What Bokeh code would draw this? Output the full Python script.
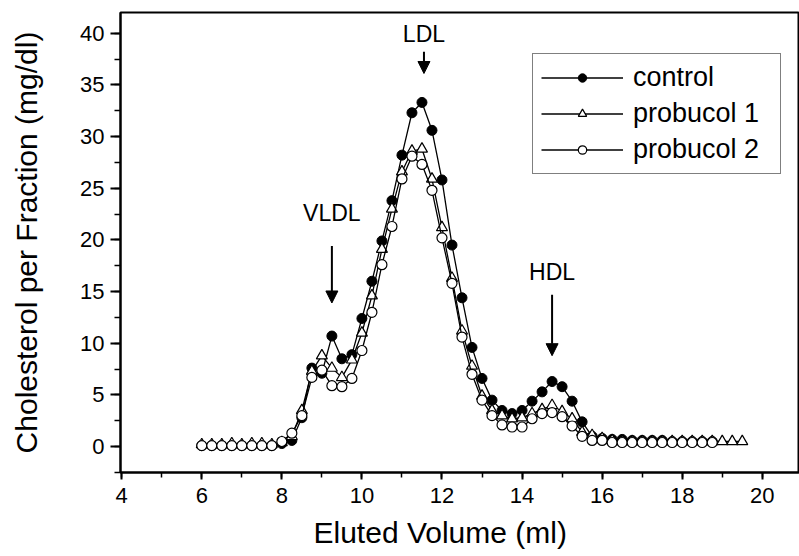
from bokeh.plotting import figure
from bokeh.models import (Range1d, SingleIntervalTicker, Legend, LegendItem,
                          Label, Arrow, NormalHead, Title)
from bokeh.embed import file_html
from bokeh.resources import INLINE

# ---------------- data ----------------
volume = [6.0, 6.25, 6.5, 6.75, 7.0, 7.25, 7.5, 7.75,
          8.0, 8.25, 8.5, 8.75, 9.0, 9.25, 9.5, 9.75,
          10.0, 10.25, 10.5, 10.75, 11.0, 11.25, 11.5, 11.75,
          12.0, 12.25, 12.5, 12.75, 13.0, 13.25, 13.5, 13.75,
          14.0, 14.25, 14.5, 14.75, 15.0, 15.25, 15.5, 15.75,
          16.0, 16.25, 16.5, 16.75, 17.0, 17.25, 17.5, 17.75,
          18.0, 18.25, 18.5, 18.75, 19.0, 19.25, 19.5]

control = [0.1, 0.1, 0.1, 0.1, 0.1, 0.1, 0.1, 0.1,
           0.3, 0.6, 2.8, 7.6, 7.1, 10.7, 8.5, 8.9,
           12.4, 16.0, 19.9, 23.8, 28.2, 32.3, 33.3, 30.6,
           25.8, 19.5, 14.4, 9.6, 6.6, 4.5, 3.5, 3.2,
           3.5, 4.4, 5.3, 6.3, 5.8, 4.4, 2.4, 1.0,
           0.8, 0.7, 0.7, 0.6, 0.6, 0.6, 0.6, 0.5,
           0.5, 0.5, 0.5, 0.5]

probucol1 = [0.2, 0.2, 0.2, 0.3, 0.2, 0.3, 0.3, 0.2,
             0.4, 1.0, 3.5, 7.3, 8.8, 7.6, 6.7, 8.4,
             11.0, 14.6, 19.1, 23.0, 26.6, 28.6, 28.8, 25.9,
             21.2, 16.3, 11.2, 7.8, 4.9, 3.5, 3.0, 2.7,
             2.8, 3.2, 3.6, 4.0, 3.4, 2.7, 1.4, 1.1,
             0.8, 0.6, 0.5, 0.5, 0.5, 0.5, 0.5, 0.5,
             0.5, 0.5, 0.5, 0.5, 0.5, 0.5, 0.5]

probucol2 = [0.1, 0.1, 0.1, 0.1, 0.1, 0.1, 0.1, 0.1,
             0.5, 1.3, 3.0, 6.7, 7.4, 5.9, 5.8, 6.6,
             9.3, 13.0, 17.6, 21.3, 25.9, 28.1, 27.3, 24.8,
             20.2, 15.8, 10.6, 7.0, 4.5, 3.0, 2.1, 1.9,
             1.9, 2.7, 3.2, 3.3, 2.9, 2.0, 1.0, 0.6,
             0.6, 0.4, 0.4, 0.4, 0.4, 0.4, 0.4, 0.4,
             0.4, 0.4, 0.4, 0.4]

series_names = ["control", "probucol 1", "probucol 2"]
x_title = "Eluted Volume (ml)"
y_title = "Cholesterol per Fraction (mg/dl)"

# peak annotations: label, x, label y, arrow start y, arrow end y
peak_names = ["VLDL", "LDL", "HDL"]
peak_x = [9.25, 11.55, 14.75]
peak_label_y = [22.6, 39.9, 16.9]
peak_arrow_top = [19.4, 38.2, 14.7]
peak_arrow_tip = [13.9, 36.1, 8.8]

FONT = "Liberation Sans"

p = figure(width=799, height=556, output_backend="svg", toolbar_location=None,
           x_range=Range1d(3.97, 20.93), y_range=Range1d(-2.5, 42),
           min_border_left=120, min_border_right=0, min_border_top=12,
           min_border_bottom=84, background_fill_color="white",
           border_fill_color="white")
p.grid.visible = False
p.outline_line_color = "black"
p.outline_line_width = 2

p.xaxis.ticker = SingleIntervalTicker(interval=2, num_minor_ticks=2)
p.yaxis.ticker = SingleIntervalTicker(interval=5, num_minor_ticks=2)
p.yaxis.axis_label = y_title
for ax in (p.xaxis[0], p.yaxis[0]):
    ax.axis_line_color = "black"
    ax.axis_line_width = 2
    ax.major_tick_line_color = "black"
    ax.major_tick_line_width = 2
    ax.minor_tick_line_color = "black"
    ax.minor_tick_line_width = 1.5
    ax.major_tick_in = 0
    ax.minor_tick_in = 0
    ax.major_label_text_font = FONT
    ax.major_label_text_font_size = "22px"
    ax.major_label_text_color = "black"
    ax.axis_label_text_font = FONT
    ax.axis_label_text_font_size = "30px"
    ax.axis_label_text_font_style = "normal"
    ax.axis_label_text_color = "black"
p.xaxis.major_tick_out = 7
p.xaxis.minor_tick_out = 5
p.xaxis.major_label_standoff = 8
p.yaxis.major_tick_out = 10
p.yaxis.minor_tick_out = 6
p.yaxis.major_label_standoff = 6
p.yaxis.axis_label_standoff = 34

# x-axis title, placed slightly left of the frame centre as in the original
p.add_layout(Title(text=x_title, align="left", offset=193, standoff=16,
                   text_font=FONT, text_font_size="30px",
                   text_font_style="normal", text_color="black"), "below")

# ---------------- series ----------------
n_c = len(control)
n_1 = len(probucol1)
n_2 = len(probucol2)

l0 = p.line(volume[:n_c], control, line_color="black", line_width=1.3)
s0 = p.scatter(volume[:n_c], control, marker="circle", size=10,
               fill_color="black", line_color="black")
l1 = p.line(volume[:n_1], probucol1, line_color="black", line_width=1.3)
s1 = p.scatter(volume[:n_1], probucol1, marker="triangle", size=11,
               fill_color="white", line_color="black", line_width=1.2)
l2 = p.line(volume[:n_2], probucol2, line_color="black", line_width=1.3)
s2 = p.scatter(volume[:n_2], probucol2, marker="circle", size=10,
               fill_color="white", line_color="black", line_width=1.2)

legend = Legend(items=[LegendItem(label=series_names[0], renderers=[l0, s0]),
                       LegendItem(label=series_names[1], renderers=[l1, s1]),
                       LegendItem(label=series_names[2], renderers=[l2, s2])],
                location=(412, 298), padding=8, spacing=5,
                glyph_width=82, glyph_height=21, label_standoff=10,
                label_width=139, label_height=31,
                label_text_font=FONT, label_text_font_size="27px",
                label_text_color="black",
                border_line_color="black", border_line_width=1.5,
                background_fill_color="white", background_fill_alpha=1)
p.add_layout(legend)

for name, x, ly, yt, yb in zip(peak_names, peak_x, peak_label_y,
                               peak_arrow_top, peak_arrow_tip):
    p.add_layout(Label(x=x, y=ly, text=name, text_align="center",
                       text_baseline="middle", text_font=FONT,
                       text_font_size="23px", text_color="black"))
    p.add_layout(Arrow(end=NormalHead(size=12, fill_color="black",
                                      line_color="black"),
                       x_start=x, y_start=yt, x_end=x, y_end=yb,
                       line_color="black", line_width=2))

open("out.html", "w").write(file_html(p, INLINE))
